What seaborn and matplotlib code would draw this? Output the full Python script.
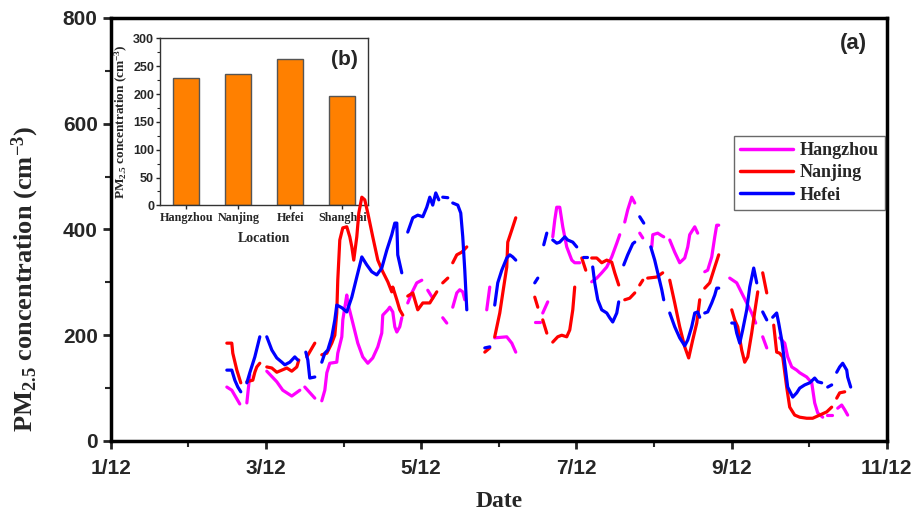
import numpy as np
import pandas as pd
import matplotlib
matplotlib.use("Agg")
import matplotlib.pyplot as plt
import seaborn as sns
from matplotlib.ticker import MultipleLocator

N = None
# x: months after 1/12 (0 = 1/12, 2 = 3/12, ...); None = gap in the record
hz_x = [1.495, 1.559, 1.662, N, 1.753, 1.791, N, 2.010, 2.139, 2.216, 2.332, 2.436, N, 2.500, 2.629, N,
        2.719, 2.758, 2.784, 2.822, 2.912, 2.925, 2.977, 2.990, 3.041, 3.054, 3.119, 3.183, 3.247, 3.312,
        3.376, 3.441, 3.492, 3.505, 3.531, 3.570, 3.595, 3.634, 3.660, 3.686, 3.724, 3.750, N,
        3.827, 3.879, 3.943, 4.008, N, 4.085, 4.149, N, 4.278, 4.330, N, 4.407, 4.459, 4.497, 4.536, 4.562, N,
        4.845, 4.884, N, 4.948, 5.103, 5.168, 5.219, N, 5.464, 5.528, N, 5.567, 5.631, N,
        5.696, 5.722, 5.747, 5.786, 5.825, 5.876, 5.941, 5.979, 6.044, N,
        6.198, 6.263, 6.327, 6.392, 6.456, 6.521, 6.559, N, 6.624, 6.662, 6.714, 6.753, N, 6.817, 6.856, N,
        6.972, 6.985, 7.049, 7.101, 7.126, N, 7.204, 7.268, 7.332, 7.397, 7.436, 7.461, 7.526, 7.564, N,
        7.655, 7.693, 7.745, 7.784, 7.809, 7.835, N, 7.977, 8.067, 8.131, 8.196, 8.260, 8.312, N, 8.402, 8.454, N,
        8.621, 8.686, 8.724, 8.776, 8.840, 8.879, 8.969, 9.034, 9.072, 9.111, 9.175, N, 9.227, 9.291, N,
        9.369, 9.420, 9.459, 9.497]
hz_y = [102, 96, 70, N, 72, 125, N, 132, 112, 96, 85, 96, N, 102, 81, N,
        76, 96, 129, 147, 149, 166, 197, 229, 276, 261, 223, 185, 159, 147,
        157, 178, 204, 238, 242, 248, 253, 244, 216, 206, 216, 233, N,
        261, 280, 299, 304, N, 285, 270, N, 233, 223, N, 253, 280, 286, 282, 267, N,
        248, 291, N, 195, 197, 185, 168, N, 225, 225, N, 242, 263, N,
        386, 418, 442, 442, 405, 367, 342, 337, 337, N,
        301, 308, 318, 329, 348, 374, 390, N, 414, 437, 461, 450, N, 393, 384, N,
        367, 390, 393, 388, 386, N, 380, 357, 337, 346, 367, 390, 405, 393, N,
        320, 323, 348, 386, 408, 408, N, 308, 299, 280, 261, 242, 223, N, 197, 176, N,
        195, 185, 159, 140, 134, 129, 121, 110, 72, 53, 45, N, 49, 49, N,
        62, 68, 59, 49]

nj_x = [1.495, 1.559, 1.572, 1.624, 1.675, N, 1.753, 1.830, 1.856, 1.881, 1.920, N,
        2.010, 2.075, 2.139, 2.204, 2.268, 2.332, 2.397, 2.423, N, 2.526, 2.629, N,
        2.719, 2.784, 2.848, 2.887, 2.912, 2.925, 2.951, 2.990, 3.041, 3.080, 3.106, 3.131, 3.170, 3.196,
        3.235, 3.273, 3.312, 3.376, 3.441, 3.505, 3.570, 3.621, 3.634, 3.686, 3.724, 3.763, N,
        3.827, 3.892, 3.956, 4.021, 4.111, 4.149, 4.201, N, 4.278, 4.343, N, 4.407, 4.459, 4.523, 4.588, N,
        4.820, 4.884, N, 4.948, 5.013, 5.052, 5.103, 5.116, 5.168, 5.219, N, 5.464, 5.503, N, 5.567, 5.619, N,
        5.696, 5.760, 5.812, 5.876, 5.915, 5.954, 5.979, N, 6.070, 6.121, N,
        6.198, 6.263, 6.327, 6.392, 6.456, 6.495, 6.546, N, 6.624, 6.688, 6.753, N, 6.817, 6.856, N,
        6.920, 7.036, 7.113, N, 7.204, 7.268, 7.332, 7.397, 7.448, 7.500, 7.552, 7.590, N,
        7.655, 7.719, 7.784, 7.835, N, 8.003, 8.041, 8.080, 8.131, 8.170, 8.209, 8.260, 8.299, 8.338, N,
        8.402, 8.454, N, 8.544, 8.582, 8.621, 8.660, 8.711, 8.750, 8.814, 8.879, 8.969, 9.046, 9.137, 9.227, 9.291, N,
        9.356, 9.394, 9.459]
nj_y = [185, 185, 166, 134, 110, N, 112, 115, 130, 140, 147, N,
        140, 138, 130, 134, 138, 132, 140, 153, N, 159, 185, N,
        163, 166, 185, 200, 242, 304, 380, 403, 405, 386, 367, 342, 386, 431,
        461, 456, 431, 386, 342, 320, 301, 282, 291, 267, 248, 238, N,
        274, 280, 248, 261, 261, 270, 282, N, 299, 308, N, 337, 352, 357, 367, N,
        168, 176, N, 197, 242, 280, 329, 376, 399, 422, N, 272, 253, N, 229, 204, N,
        187, 197, 200, 197, 210, 248, 291, N, 346, 323, N,
        346, 346, 337, 342, 338, 318, 295, N, 267, 270, 280, N, 295, 304, N,
        308, 310, 318, N, 304, 261, 216, 178, 157, 191, 223, 267, N,
        289, 299, 329, 352, N, 248, 229, 216, 172, 149, 159, 204, 244, 282, N,
        318, 280, N, 219, 168, 166, 159, 102, 64, 49, 45, 43, 43, 49, 55, 64, N,
        81, 91, 93]

hf_x = [1.495, 1.559, 1.598, 1.637, 1.675, N, 1.753, 1.791, 1.856, 1.920, N,
        2.010, 2.075, 2.139, 2.204, 2.242, 2.307, 2.371, 2.410, N, 2.513, 2.539, 2.564, 2.629, N,
        2.719, 2.758, 2.796, 2.848, 2.887, 2.912, 2.977, 3.041, 3.106, 3.170, 3.235, 3.299, 3.363, 3.428,
        3.492, 3.557, 3.621, 3.660, 3.686, 3.698, 3.750, N,
        3.827, 3.892, 3.956, 4.021, 4.072, 4.111, 4.149, 4.188, 4.227, N, 4.278, 4.343, N,
        4.407, 4.472, 4.510, 4.536, 4.562, 4.588, N, 4.820, 4.884, N,
        4.948, 4.987, 5.039, 5.103, 5.142, 5.180, 5.219, N, 5.464, 5.503, N, 5.580, 5.619, N,
        5.696, 5.747, 5.786, 5.851, 5.889, 5.954, 6.005, N, 6.082, 6.134, N,
        6.211, 6.237, 6.276, 6.327, 6.392, 6.430, 6.469, 6.521, 6.546, N, 6.611, 6.662, 6.727, 6.753, N,
        6.817, 6.869, N, 6.959, 7.010, 7.049, 7.101, 7.126, N,
        7.204, 7.268, 7.332, 7.397, 7.436, 7.487, 7.526, 7.564, 7.590, N,
        7.655, 7.693, 7.745, 7.784, 7.809, 7.835, N,
        8.003, 8.041, 8.067, 8.106, 8.144, 8.196, 8.235, 8.286, 8.325, N, 8.402, 8.454, N,
        8.531, 8.582, 8.608, 8.647, 8.686, 8.724, 8.789, 8.840, 8.879, 8.943, 9.008, 9.072, 9.111, 9.162, N,
        9.240, 9.291, N, 9.356, 9.394, 9.433, 9.485, 9.497, 9.536]
hf_y = [134, 134, 115, 102, 93, N, 110, 129, 159, 197, N,
        197, 172, 157, 149, 144, 149, 159, 153, N, 168, 153, 119, 121, N,
        149, 166, 172, 197, 229, 257, 252, 244, 272, 310, 348, 333, 320, 314,
        327, 361, 390, 412, 412, 352, 318, N,
        395, 422, 427, 424, 442, 461, 446, 469, 456, N, 461, 460, N,
        450, 446, 431, 386, 323, 248, N, 176, 178, N,
        257, 299, 323, 346, 352, 348, 342, N, 299, 308, N, 371, 393, N,
        380, 374, 376, 386, 380, 376, 367, N, 348, 348, N,
        329, 299, 267, 248, 242, 233, 225, 242, 263, N, 333, 352, 373, 376, N,
        424, 412, N, 367, 342, 318, 286, 267, N,
        242, 216, 195, 180, 191, 216, 242, 244, 234, N,
        242, 244, 261, 276, 289, 289, N,
        223, 223, 204, 185, 210, 248, 291, 327, 299, N, 244, 229, N,
        234, 242, 223, 191, 147, 102, 83, 91, 100, 106, 110, 119, 112, 110, N,
        102, 106, N, 130, 140, 147, 134, 121, 102]

cities = ["Hangzhou", "Nanjing", "Hefei"]
colors = ["#FF00FF", "#FF0000", "#0000FF"]
tick_pos = [0, 2, 4, 6, 8, 10]
tick_labels = ["1/12", "3/12", "5/12", "7/12", "9/12", "11/12"]

bar_locs = ["Hangzhou", "Nanjing", "Hefei", "Shanghai"]
bar_vals = [228, 236, 262, 197]

rows = []
for city, xs, ys in [("Hangzhou", hz_x, hz_y), ("Nanjing", nj_x, nj_y), ("Hefei", hf_x, hf_y)]:
    seg = 0
    for xv, yv in zip(xs, ys):
        if xv is None or yv is None:
            seg += 1
            continue
        rows.append({"city": city, "seg": f"{city}_{seg}", "x": xv, "y": yv})
df = pd.DataFrame(rows)

sns.set_style("ticks")
plt.rcParams["font.family"] = ["Liberation Sans", "DejaVu Sans"]
plt.rcParams["mathtext.fontset"] = "custom"
plt.rcParams["mathtext.rm"] = "Liberation Serif:bold"
plt.rcParams["mathtext.it"] = "Liberation Serif:bold"
plt.rcParams["mathtext.bf"] = "Liberation Serif:bold"

fig = plt.figure(figsize=(9.16, 5.11), dpi=100)
ax = fig.add_axes([0.121, 0.137, 0.847, 0.828])
ax.set_zorder(2)
ax.patch.set_alpha(0)

sns.lineplot(data=df, x="x", y="y", hue="city", units="seg", estimator=None,
             palette=dict(zip(cities, colors)), hue_order=cities, linewidth=2.3,
             ax=ax, legend=True, sort=False)

ax.set_xlim(0, 10)
ax.set_ylim(0, 800)
ax.set_xticks(tick_pos)
ax.set_xticklabels(tick_labels)
ax.xaxis.set_minor_locator(MultipleLocator(1))
ax.yaxis.set_major_locator(MultipleLocator(200))
ax.yaxis.set_minor_locator(MultipleLocator(100))
for s in ax.spines.values():
    s.set_visible(True)
    s.set_linewidth(2.5)
    s.set_color("black")
ax.tick_params(axis="both", which="major", direction="out", length=6, width=2,
               top=False, right=False)
ax.tick_params(axis="both", which="minor", direction="out", length=4, width=1.5,
               top=False, right=False)
for lbl in ax.get_xticklabels():
    lbl.set_fontfamily(["Liberation Sans Narrow", "Liberation Sans"])
    lbl.set_fontweight("bold")
    lbl.set_fontsize(15)
for lbl in ax.get_yticklabels():
    lbl.set_fontweight("bold")
    lbl.set_fontsize(15)
ax.xaxis.set_tick_params(pad=7)

ax.set_xlabel("Date", fontfamily="Liberation Serif", fontweight="bold", fontsize=17, labelpad=9)
ax.set_ylabel("PM$_{2.5}$ concentration (cm$^{-3}$)", fontfamily="Liberation Serif",
              fontweight="bold", fontsize=19)
ax.yaxis.set_label_coords(-0.09, 0.383)

handles, labels = ax.get_legend_handles_labels()
leg = ax.legend(handles, labels, loc="upper left", bbox_to_anchor=(0.803, 0.722),
                frameon=True, fancybox=False, edgecolor="#444444", borderpad=0.35,
                handlelength=2.9, handletextpad=0.4, labelspacing=0.3, borderaxespad=0,
                prop={"family": "Liberation Serif", "weight": "bold", "size": 13})
leg.get_frame().set_linewidth(1.0)
for h in leg.get_lines():
    h.set_linewidth(2.5)

ax.text(0.975, 0.965, "(a)", transform=ax.transAxes, ha="right", va="top",
        fontsize=16, fontweight="bold")

# inset bar chart
ins = fig.add_axes([0.175, 0.598, 0.227, 0.327])
ins.set_zorder(1)
bdf = pd.DataFrame({"loc": bar_locs, "val": bar_vals})
sns.barplot(data=bdf, x="loc", y="val", color="#FF8000", saturation=1, width=0.5,
            edgecolor="#555555", linewidth=1.0, ax=ins)
ins.set_ylim(0, 300)
ins.yaxis.set_major_locator(MultipleLocator(50))
ins.yaxis.set_minor_locator(MultipleLocator(25))
for s in ins.spines.values():
    s.set_visible(True)
    s.set_linewidth(1.0)
    s.set_color("#333333")
ins.tick_params(axis="both", which="major", direction="out", length=3, width=1,
                top=False, right=False, pad=1.5)
ins.tick_params(axis="y", which="minor", direction="out", length=2, width=0.8, right=False)
for lbl in ins.get_xticklabels():
    lbl.set_fontfamily("Liberation Serif")
    lbl.set_fontweight("bold")
    lbl.set_fontsize(8.7)
for lbl in ins.get_yticklabels():
    lbl.set_fontweight("bold")
    lbl.set_fontsize(9)
ins.set_xlabel("Location", fontfamily="Liberation Serif", fontweight="bold", fontsize=10, labelpad=6)
ins.set_ylabel("PM$_{2.5}$ concentration (cm$^{-3}$)", fontfamily="Liberation Serif",
               fontweight="bold", fontsize=9.5, labelpad=2)
ins.text(0.95, 0.93, "(b)", transform=ins.transAxes, ha="right", va="top",
         fontsize=15, fontweight="bold")

fig.savefig("out.png", dpi=100)
